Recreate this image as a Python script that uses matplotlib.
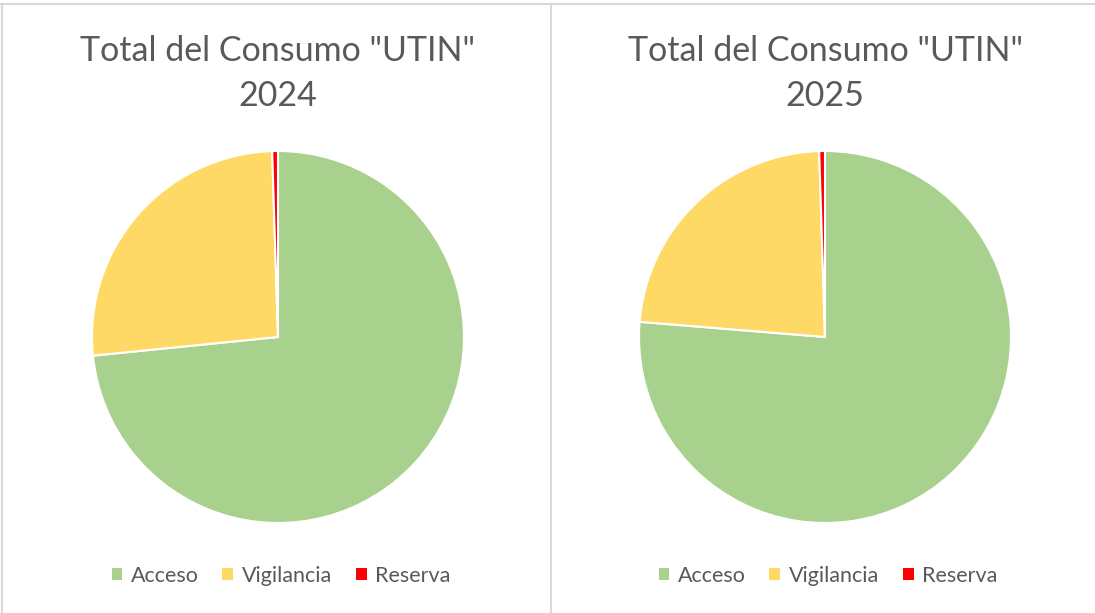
import matplotlib
matplotlib.use('Agg')
import matplotlib.pyplot as plt
from matplotlib.patches import Patch
from matplotlib.lines import Line2D

labels = ['Acceso', 'Vigilancia', 'Reserva']
colors = ['#a9d18e', '#ffd966', '#ff0000']
years = ['2024', '2025']
valores_2024 = [73.4, 26.1, 0.5]
valores_2025 = [76.3, 23.2, 0.5]

W, H = 1095, 613
fig = plt.figure(figsize=(W / 100, H / 100), dpi=100)
fig.patch.set_facecolor('white')

txt_color = '#595959'
font = 'Lato'
R = 186


def px(x, y):
    return x / W, 1 - y / H


for cx, year, vals in [(278, years[0], valores_2024), (825, years[1], valores_2025)]:
    ax = fig.add_axes([(cx - R) / W, 1 - (337 + R) / H, 2 * R / W, 2 * R / H])
    ax.pie(vals, colors=colors, startangle=90, counterclock=False,
           wedgeprops=dict(edgecolor='white', linewidth=1.5))
    ax.set_xlim(-1, 1)
    ax.set_ylim(-1, 1)
    ax.set_aspect('equal')
    ax.axis('off')

    fig.text(*px(cx, 51), 'Total del Consumo "UTIN"', ha='center', va='center',
             fontsize=24.5, color=txt_color, family=font)
    fig.text(*px(cx, 96), year, ha='center', va='center',
             fontsize=24.5, color=txt_color, family=font)

    handles = [Patch(facecolor=c, edgecolor='none') for c in colors]
    fig.legend(handles, labels, loc='center', bbox_to_anchor=px(cx + 3, 576),
               ncol=3, frameon=False, handlelength=0.5, handleheight=0.5,
               handletextpad=0.4, columnspacing=1.1,
               prop=dict(family=font, size=15.5), labelcolor=txt_color)

# chart borders
bc = '#d9d9d9'
fig.add_artist(Line2D([0, 1], [1 - 4 / H, 1 - 4 / H], color=bc, lw=1.5))
fig.add_artist(Line2D([2 / W, 2 / W], [0, 1 - 4 / H], color=bc, lw=1.5))
fig.add_artist(Line2D([551 / W, 551 / W], [0, 1 - 4 / H], color=bc, lw=1.5))

fig.savefig('out.png', dpi=100, facecolor='white')
